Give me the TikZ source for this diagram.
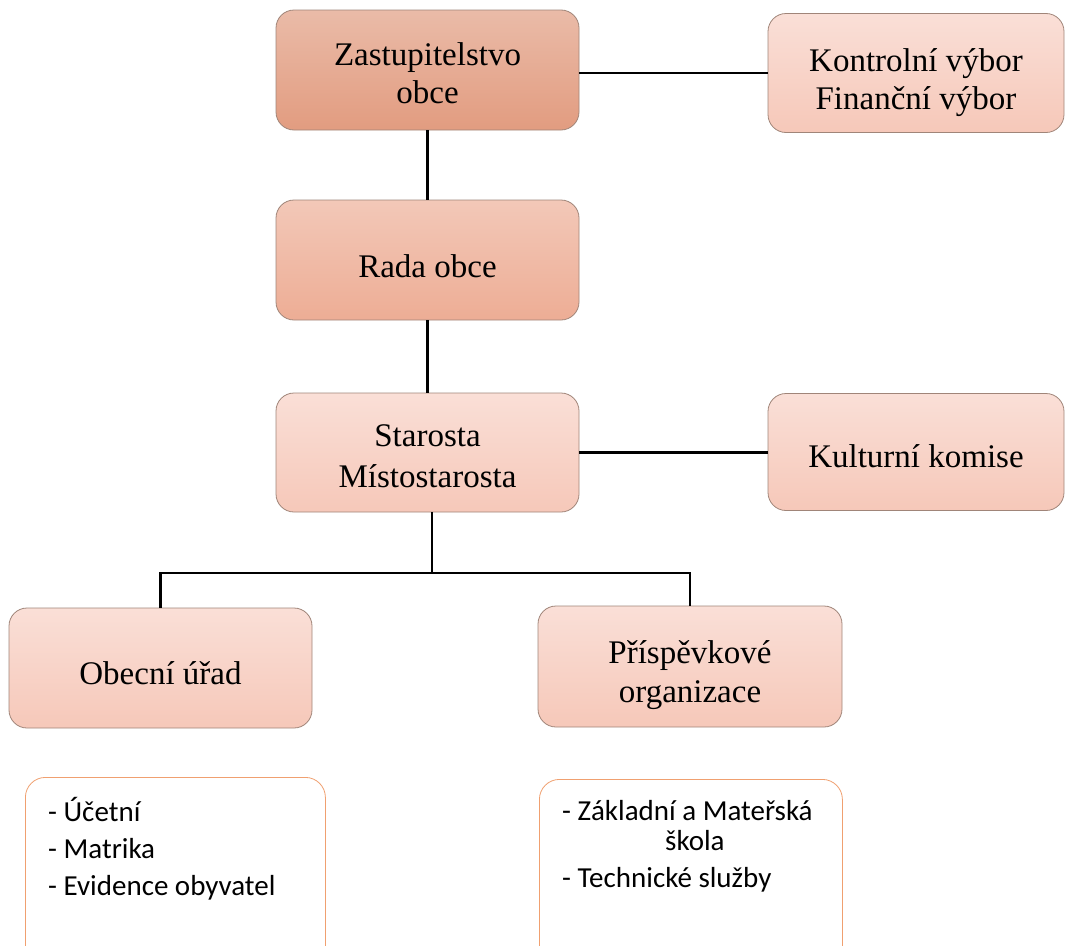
\documentclass[tikz,border=0pt]{standalone}
\usepackage{fontspec}
\setmainfont{Liberation Serif}
\newfontfamily\listfont{Carlito}
\definecolor{edge}{HTML}{A08579}
\definecolor{darkT}{HTML}{EABBA8}
\definecolor{darkB}{HTML}{E29C80}
\definecolor{midT}{HTML}{F3C8B8}
\definecolor{midB}{HTML}{EDAD95}
\definecolor{lightT}{HTML}{FADFD7}
\definecolor{lightB}{HTML}{F6C8B9}
\definecolor{listedge}{HTML}{F0A070}
\begin{document}
\begin{tikzpicture}[x=1pt,y=-1pt,
  orgbox/.style={rounded corners=18pt, draw=edge, line width=0.8pt,
    minimum width=303pt, minimum height=120pt, inner sep=0pt},
  darkbox/.style={orgbox, top color=darkT, bottom color=darkB},
  midbox/.style={orgbox, top color=midT, bottom color=midB},
  lightbox/.style={orgbox, top color=lightT, bottom color=lightB},
  boxtext/.style={align=center, inner sep=0pt, font=\fontsize{33}{39}\selectfont},
  listbox/.style={rounded corners=20pt, draw=listedge, line width=0.8pt, fill=white,
    minimum height=200pt, inner sep=0pt, anchor=north west},
  listtext/.style={font=\listfont\fontsize{29}{37}\selectfont, align=left, inner sep=0pt, anchor=north west},
  conn/.style={line width=2.8pt, black}]
\useasboundingbox (0,0) rectangle (1067,945);
% boxes
\node[darkbox, minimum width=303pt] (zast) at (427.5,70) {};
\node[lightbox, minimum width=296pt, minimum height=119pt] (kontr) at (916,73) {};
\node[midbox] (rada) at (427.5,260) {};
\node[lightbox, minimum height=119pt] (star) at (427.5,452.5) {};
\node[lightbox, minimum width=296pt, minimum height=117pt] (kult) at (916,452) {};
\node[lightbox] (ou) at (160.5,668) {};
\node[lightbox, minimum width=304pt, minimum height=121pt] (po) at (690,666.5) {};
% texts
\node[boxtext, font=\fontsize{33}{38}\selectfont] (zastT) at ([yshift=-3.5pt]zast.center) {Zastupitelstvo\\obce};
\node[boxtext, font=\fontsize{33}{38}\selectfont] (kontrT) at ([yshift=-10pt]kontr.center) {Kontrolní výbor\\Finanční výbor};
\node[boxtext] (radaT) at ([yshift=-6pt]rada.center) {Rada obce};
\node[boxtext, font=\fontsize{33}{41}\selectfont] (starT) at ([yshift=-4pt]star.center) {Starosta\\Místostarosta};
\node[boxtext] (kultT) at ([yshift=-4pt]kult.center) {Kulturní komise};
\node[boxtext] (ouT) at ([yshift=-5pt]ou.center) {Obecní úřad};
\node[boxtext] (poT) at ([yshift=-8.5pt]po.center) {Příspěvkové\\organizace};
% lists
\node[listbox, minimum width=300pt] (l1) at (25,777) {};
\node[listbox, minimum width=303pt] (l2) at (539,779) {};
\node[listtext] (t1) at (48,797) {- Účetní\\- Matrika\\- Evidence obyvatel};
\node[listtext, font=\listfont\fontsize{29}{30}\selectfont] (t2) at (562,800) {- Základní a Mateřská\\\hspace*{103pt}škola\\[7pt]- Technické služby};
% connectors
\coordinate (j) at (432,573);
\draw[conn] (zast.east |- kontr.west) -- (kontr.west);
\draw[conn] (zast.south) -- (rada.north);
\draw[conn] (rada.south) -- (star.north);
\draw[conn] (star.east) -- (star.east -| kult.west);
\draw[conn] (star.south -| j) -- (j);
\draw[conn] (ou.north) |- (j) -| (po.north);
\end{tikzpicture}
\end{document}
